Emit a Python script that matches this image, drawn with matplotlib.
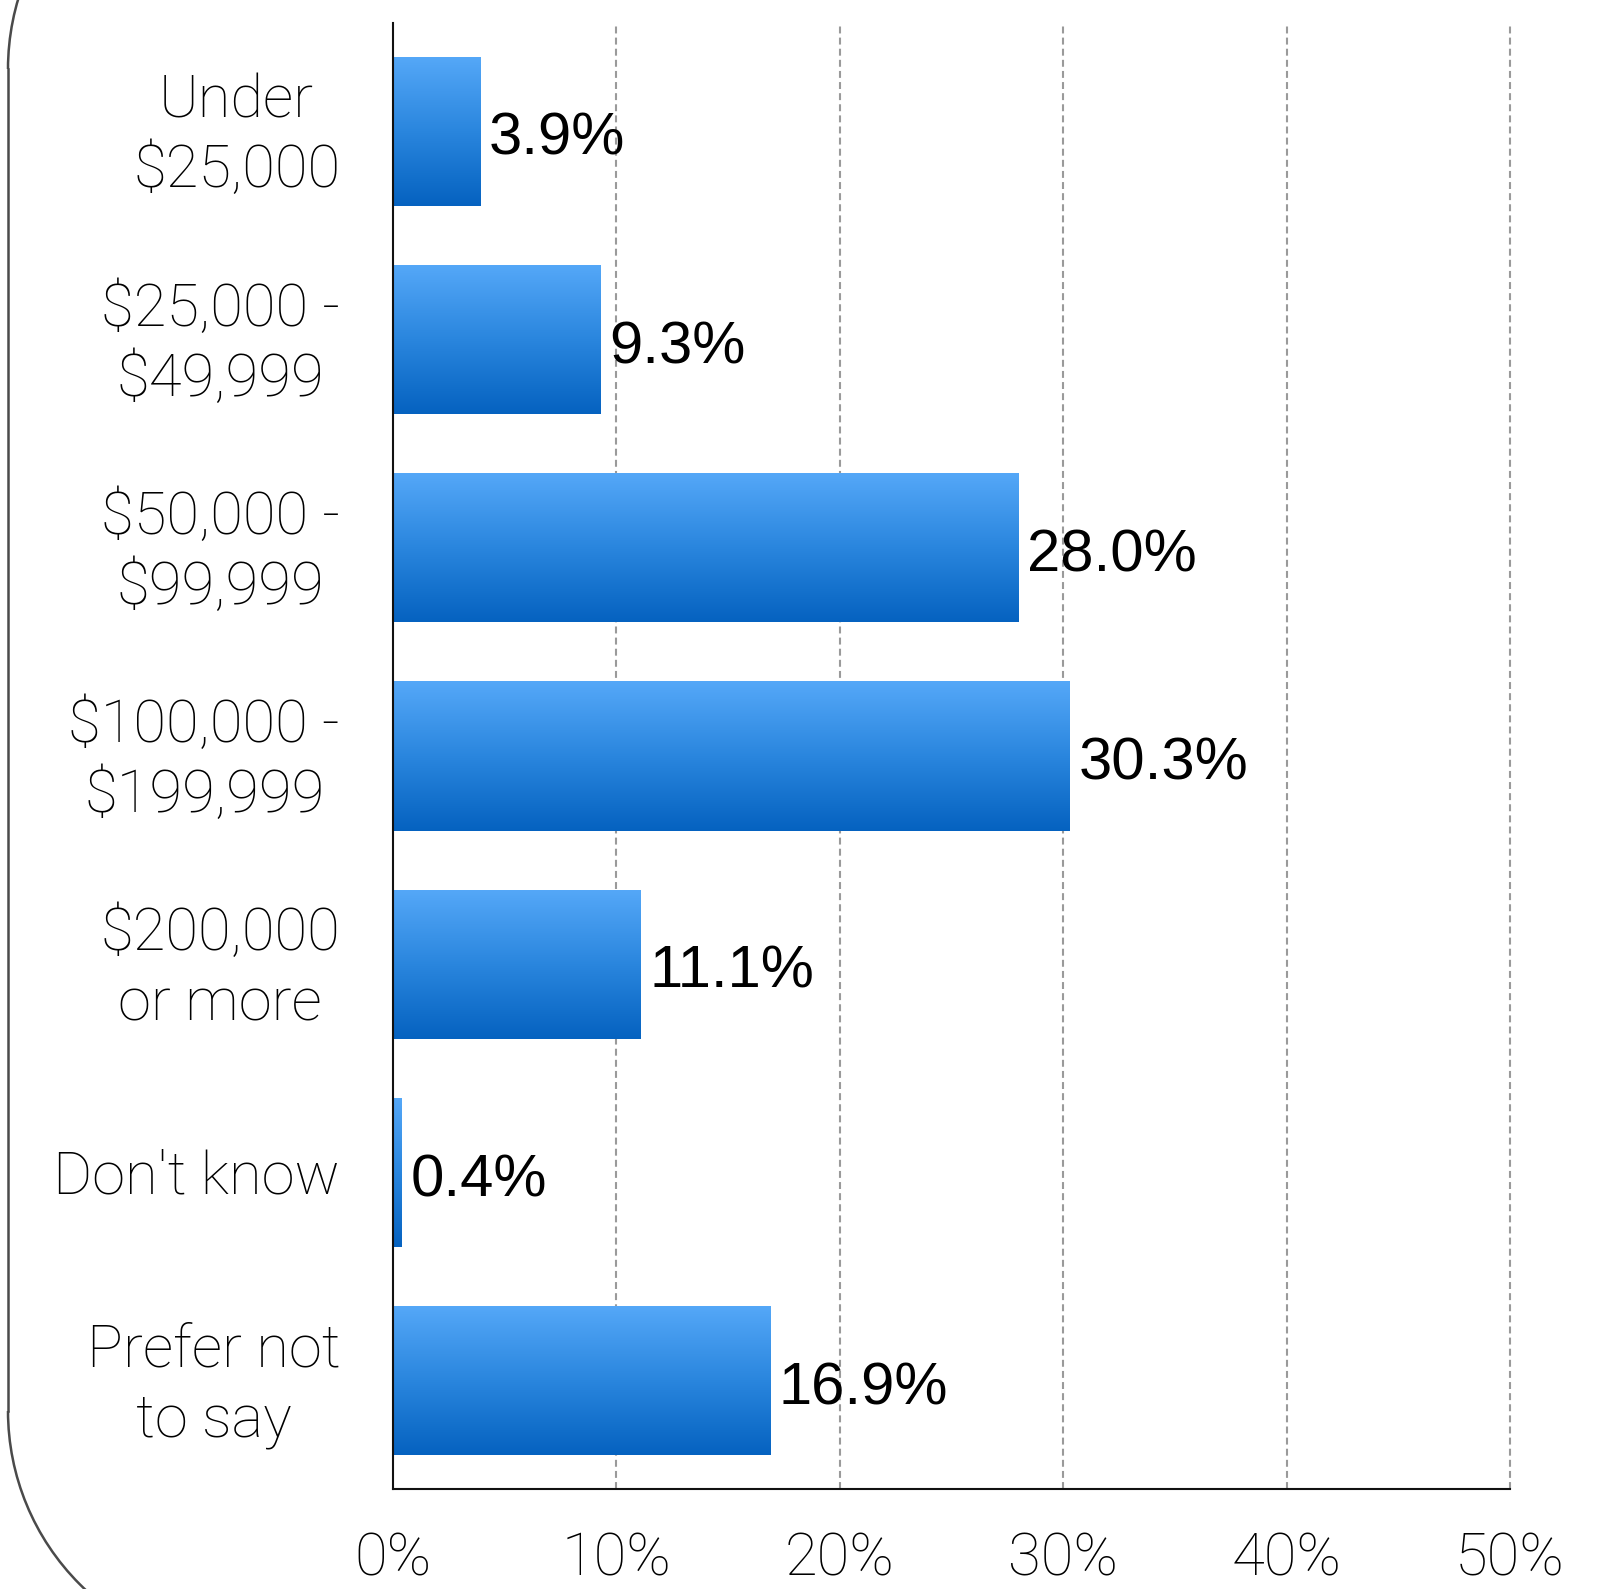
import matplotlib
matplotlib.use("Agg")
import matplotlib.pyplot as plt
import numpy as np
from matplotlib import font_manager
from matplotlib.colors import LinearSegmentedColormap
from matplotlib.patches import Arc
from matplotlib.lines import Line2D
from matplotlib.transforms import IdentityTransform

categories = [
    "Under\n$25,000",
    "$25,000 -\n$49,999",
    "$50,000 -\n$99,999",
    "$100,000 -\n$199,999",
    "$200,000\nor more",
    "Don't know",
    "Prefer not\nto say",
]
shares = [3.9, 9.3, 28.0, 30.3, 11.1, 0.4, 16.9]
xticks = [0, 10, 20, 30, 40, 50]
xtick_labels = ["0%", "10%", "20%", "30%", "40%", "50%"]


def pick_light_font():
    # thin face for axis labels, if one is installed
    for fam in ["Roboto", "Open Sans", "Lato", "Inter", "Noto Sans"]:
        for f in font_manager.fontManager.ttflist:
            if f.name == fam and f.weight in (300, "light", 200):
                return fam
    return "Liberation Sans"


light_family = pick_light_font()
value_family = "Liberation Sans"

W, H, DPI = 1619, 1589, 100
fig = plt.figure(figsize=(W / DPI, H / DPI), dpi=DPI)
fig.patch.set_facecolor("white")

# rounded frame on the left, drawn in pixel space
R = 245
frame_x = 8
top_cy = H - 69
bot_cy = H - 1411
frame_kw = dict(color="#4a4a4a", linewidth=1.8)
fig.add_artist(Arc((frame_x + R, top_cy), 2 * R, 2 * R, theta1=90, theta2=180,
                   transform=IdentityTransform(), **frame_kw))
fig.add_artist(Arc((frame_x + R, bot_cy), 2 * R, 2 * R, theta1=180, theta2=270,
                   transform=IdentityTransform(), **frame_kw))
fig.add_artist(Line2D([frame_x, frame_x], [bot_cy, top_cy],
                      transform=IdentityTransform(), **frame_kw))

ax = fig.add_axes([393 / W, 100 / H, (1510 - 393) / W, (1566 - 100) / H])
ax.set_xlim(0, 50)
ax.set_ylim(6.52, -0.52)

pos = np.arange(len(categories))
bars = ax.barh(pos, shares, height=0.716, color="#2a82dc", zorder=2)

grad_cmap = LinearSegmentedColormap.from_list("bar", ["#0562c0", "#2a86de", "#55a8f8"])
grad = np.linspace(0, 1, 256).reshape(-1, 1)
for b in bars:
    x0, y0 = b.get_x(), b.get_y()
    w, h = b.get_width(), b.get_height()
    im = ax.imshow(grad, cmap=grad_cmap, aspect="auto", origin="lower",
                   extent=[x0, x0 + w, y0 + h, y0], zorder=3)
    im.set_clip_path(b)

plt.rcParams["lines.scale_dashes"] = False
for t in xticks[1:]:
    ax.axvline(t, color="#9a9a9a", linewidth=1.5, linestyle=(0, (5, 3)),
               zorder=1, clip_on=False)

for s in ["top", "right"]:
    ax.spines[s].set_visible(False)
for s in ["left", "bottom"]:
    ax.spines[s].set_linewidth(1.5)
    ax.spines[s].set_color("#111111")
    ax.spines[s].set_zorder(4)

ax.set_xticks(xticks)
ax.set_xticklabels(xtick_labels, fontfamily=light_family, fontweight="light",
                   fontsize=43)
ax.tick_params(axis="x", length=0, pad=30)

ax.set_yticks([])
for i, name in enumerate(categories):
    ax.annotate(name, xy=(0, i), xycoords=("axes fraction", "data"),
                xytext=(-38, -3.5), textcoords="offset points",
                ha="right", va="center", multialignment="center",
                linespacing=1.3, fontsize=43, fontfamily=light_family,
                fontweight="light", annotation_clip=False)

for i, v in enumerate(shares):
    ax.annotate(f"{v:.1f}%", xy=(v, i), xytext=(6, -17),
                textcoords="offset points", ha="left", va="baseline",
                fontsize=43, fontfamily=value_family, color="black", zorder=5)

fig.savefig("out.png", dpi=DPI)
